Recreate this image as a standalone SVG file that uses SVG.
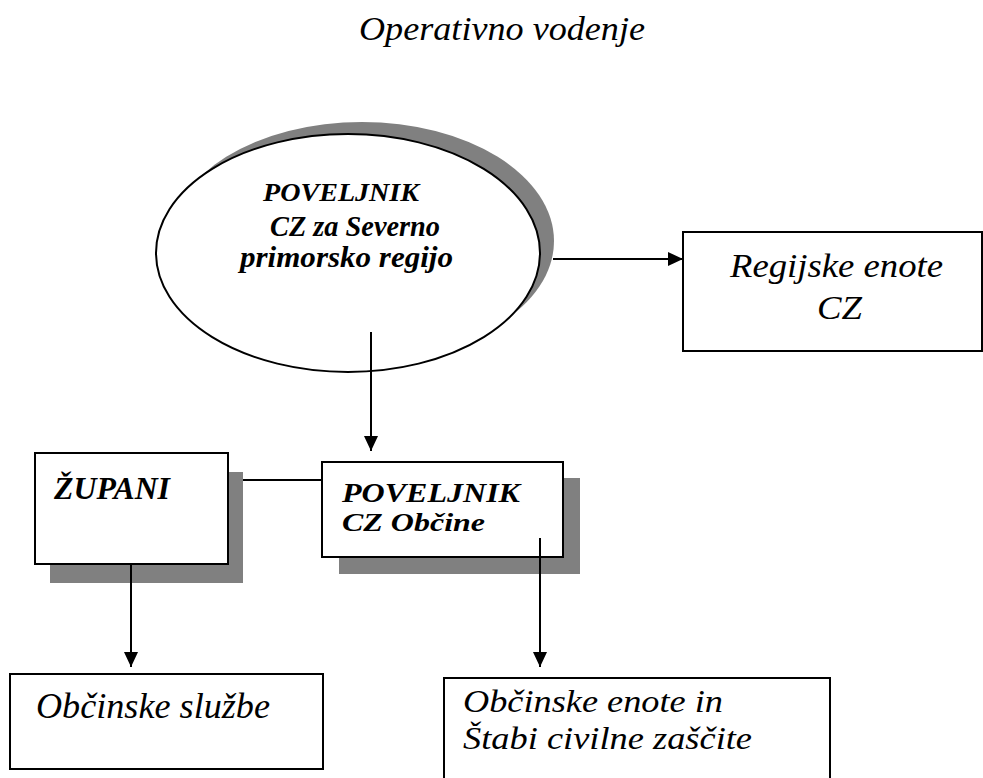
<svg xmlns="http://www.w3.org/2000/svg" width="983" height="778" viewBox="0 0 983 778">
<style>
.t{font-family:"Liberation Serif","Times New Roman",Times,serif;font-style:italic;fill:#000}
.b{font-weight:bold}
.box{fill:#fff;stroke:#000;stroke-width:2}
.sh{fill:#808080}
.ln{stroke:#000;stroke-width:2;fill:none}
</style>
<defs>
<marker id="ah" markerUnits="userSpaceOnUse" markerWidth="16" markerHeight="14" refX="15" refY="7" orient="auto">
<path d="M0,0 L15,7 L0,14 z" fill="#000"/>
</marker>
</defs>
<rect width="983" height="778" fill="#fff"/>
<text class="t" x="359" y="40" font-size="33" textLength="286" lengthAdjust="spacingAndGlyphs">Operativno vodenje</text>

<g id="poveljnik-regija">
<ellipse class="sh" cx="362" cy="241" rx="192" ry="119"/>
<ellipse cx="348" cy="253" rx="192" ry="119" fill="#fff" stroke="#000" stroke-width="2"/>
<text class="t b" x="263" y="201" font-size="25" textLength="156" lengthAdjust="spacingAndGlyphs">POVELJNIK</text>
<text class="t b" x="270" y="236" font-size="29" textLength="170" lengthAdjust="spacingAndGlyphs">CZ za Severno</text>
<text class="t b" x="240" y="267" font-size="29" textLength="213" lengthAdjust="spacingAndGlyphs">primorsko regijo</text>
</g>

<g id="regijske-enote">
<rect class="box" x="683" y="232" width="299" height="119"/>
<text class="t" x="730" y="277" font-size="33" textLength="213" lengthAdjust="spacingAndGlyphs">Regijske enote</text>
<text class="t" x="817" y="319" font-size="33" textLength="45" lengthAdjust="spacingAndGlyphs">CZ</text>
</g>

<g id="zupani">
<rect class="sh" x="50" y="472" width="193" height="111"/>
<rect class="box" x="35" y="453" width="193" height="111"/>
<text class="t b" x="54" y="499" font-size="31" textLength="116" lengthAdjust="spacingAndGlyphs">ŽUPANI</text>
</g>

<g id="poveljnik-obcine">
<rect class="sh" x="339" y="478" width="241" height="96"/>
<rect class="box" x="322" y="462" width="241" height="95"/>
<text class="t b" x="342" y="502" font-size="27" textLength="178" lengthAdjust="spacingAndGlyphs">POVELJNIK</text>
<text class="t b" x="342" y="531" font-size="26" textLength="143" lengthAdjust="spacingAndGlyphs">CZ Občine</text>
</g>

<g id="obcinske-sluzbe">
<rect class="box" x="10" y="674" width="313" height="95"/>
<text class="t" x="36" y="718" font-size="35" textLength="234" lengthAdjust="spacingAndGlyphs">Občinske službe</text>
</g>

<g id="obcinske-enote">
<rect class="box" x="444" y="678" width="386" height="110"/>
<text class="t" x="463" y="712" font-size="32" textLength="260" lengthAdjust="spacingAndGlyphs">Občinske enote in</text>
<text class="t" x="463" y="749" font-size="32" textLength="289" lengthAdjust="spacingAndGlyphs">Štabi civilne zaščite</text>
</g>

<g id="connectors">
<line class="ln" x1="553" y1="259" x2="683" y2="259" marker-end="url(#ah)"/>
<line class="ln" x1="371" y1="332" x2="371" y2="451" marker-end="url(#ah)"/>
<line class="ln" x1="243" y1="480" x2="322" y2="480"/>
<line class="ln" x1="131" y1="564" x2="131" y2="667" marker-end="url(#ah)"/>
<line class="ln" x1="540" y1="538" x2="540" y2="667" marker-end="url(#ah)"/>
</g>
</svg>
